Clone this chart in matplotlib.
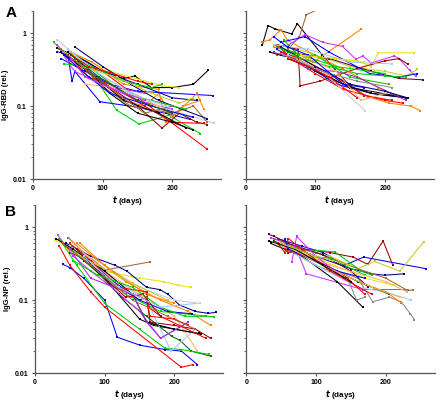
import matplotlib
matplotlib.use("Agg")
import matplotlib.pyplot as plt
import matplotlib.ticker as mticker

# ---------------- DATA ----------------
C = {'k': '#000000', 'b': '#0000ff', 'r': '#ff0000', 'g': '#00cc00', 'o': '#ff8000',
     'y': '#e6e600', 'm': '#cc33ff', 'br': '#a0693c', 'dr': '#990000', 'lb': '#99ccff',
     'gr': '#888888', 'lg': '#cccccc', 'dg': '#006600', 'tn': '#ffb366', 'nv': '#000080',
     'ol': '#c8c832', 'pu': '#9933cc', 'mr': '#660033'}

# Panel A left: IgG-RBD, group 1
rbd1_colors = ['k', 'b', 'r', 'g', 'b', 'y', 'o', 'o', 'dr', 'nv', 'm', 'lg', 'g', 'br',
               'r', 'k', 'nv', 'g', 'tn', 'pu', 'lb', 'ol', 'r', 'k', 'b', 'dg', 'br', 'm']
rbd1_days = [
    [35, 70, 100, 130, 146, 170, 200, 230, 251],
    [40, 75, 110, 150, 258],
    [45, 75, 100, 249],
    [30, 55, 80, 95, 120, 152, 195, 240],
    [35, 50, 56, 60, 96, 140, 190, 225],
    [45, 80, 110, 155, 185, 210],
    [50, 80, 130, 160, 180, 200, 235, 245],
    [55, 85, 130, 180, 190, 215, 240],
    [50, 90, 150, 185, 210, 235, 250],
    [60, 100, 150, 200, 235],
    [35, 50, 60, 100, 150, 200],
    [35, 60, 100, 180, 260],
    [60, 100, 130, 170, 185],
    [65, 95, 140, 200, 230, 250],
    [55, 80, 110, 160, 200, 245],
    [50, 75, 110, 150, 200, 230],
    [60, 100, 140, 180, 250],
    [45, 80, 130, 170, 220],
    [75, 120, 180],
    [80, 120, 160],
    [50, 90, 140, 190],
    [70, 120, 170, 210, 230],
    [55, 80, 110, 150, 170],
    [40, 60, 90, 130, 180, 220],
    [45, 70, 110, 170, 230],
    [55, 95, 150, 200],
    [40, 70, 120, 160, 200],
    [55, 75, 110, 160],
]
rbd1_vals = [
    [0.62, 0.45, 0.30, 0.24, 0.26, 0.18, 0.18, 0.20, 0.31],
    [0.45, 0.30, 0.20, 0.16, 0.14],
    [0.50, 0.35, 0.30, 0.026],
    [0.75, 0.45, 0.30, 0.20, 0.088, 0.057, 0.075, 0.042],
    [0.56, 0.50, 0.22, 0.30, 0.115, 0.10, 0.08, 0.066],
    [0.55, 0.42, 0.30, 0.23, 0.19, 0.18],
    [0.60, 0.30, 0.12, 0.10, 0.15, 0.07, 0.15, 0.09],
    [0.55, 0.40, 0.20, 0.17, 0.06, 0.10, 0.12],
    [0.50, 0.25, 0.10, 0.05, 0.08, 0.06, 0.056],
    [0.50, 0.30, 0.20, 0.13, 0.12],
    [0.70, 0.40, 0.30, 0.20, 0.12, 0.09],
    [0.82, 0.50, 0.25, 0.10, 0.058],
    [0.45, 0.30, 0.22, 0.18, 0.20],
    [0.40, 0.20, 0.10, 0.08, 0.10, 0.06],
    [0.45, 0.25, 0.20, 0.10, 0.06, 0.058],
    [0.55, 0.35, 0.15, 0.08, 0.06, 0.047],
    [0.65, 0.35, 0.20, 0.12, 0.067],
    [0.38, 0.35, 0.15, 0.12, 0.09],
    [0.20, 0.18, 0.10],
    [0.30, 0.18, 0.15],
    [0.60, 0.30, 0.15, 0.10],
    [0.35, 0.25, 0.15, 0.11, 0.13],
    [0.50, 0.35, 0.29, 0.22, 0.20],
    [0.55, 0.40, 0.25, 0.12, 0.08, 0.05],
    [0.50, 0.30, 0.15, 0.10, 0.07],
    [0.50, 0.25, 0.12, 0.08],
    [0.60, 0.35, 0.15, 0.08, 0.10],
    [0.45, 0.25, 0.18, 0.12],
]

# Panel A right: IgG-RBD, group 2
rbd2_colors = ['k', 'br', 'o', 'o', 'o', 'y', 'm', 'ol', 'mr', 'dr', 'b', 'b', 'g', 'g',
               'r', 'r', 'k', 'k', 'lg', 'lb', 'pu', 'nv', 'g', 'gr', 'tn', 'b', 'r', 'y']
rbd2_days = [
    [24, 32, 42, 66, 74, 110, 149, 170],
    [45, 60, 77, 87, 102],
    [40, 70, 97, 166],
    [24, 35, 51, 60, 100, 140, 190, 215],
    [55, 110, 150, 175, 206, 237, 250],
    [70, 130, 160, 180, 190, 242],
    [62, 85, 111, 139, 158, 168, 180, 213, 220, 235, 244],
    [55, 100, 150, 200, 230, 246],
    [60, 120, 180, 220, 254],
    [45, 75, 78, 106, 160, 200, 220, 232],
    [50, 85, 120, 178, 220, 246],
    [45, 60, 90, 130, 180, 230],
    [40, 80, 130, 200],
    [55, 75, 100, 150, 205],
    [50, 80, 130, 170, 210],
    [45, 65, 100, 140, 200, 225],
    [35, 50, 70, 100, 150, 232],
    [60, 90, 140, 180, 230],
    [60, 110, 171],
    [40, 90, 150, 210],
    [40, 70, 90, 130, 160, 230],
    [50, 100, 150, 200, 232],
    [45, 80, 120, 160, 200, 230],
    [55, 110, 160, 210],
    [80, 130, 165, 200],
    [40, 60, 90, 140, 170],
    [60, 90, 120, 160],
    [80, 130, 170],
]
rbd2_vals = [
    [0.70, 1.28, 1.15, 0.98, 1.36, 0.50, 0.19, 0.14],
    [0.50, 0.60, 0.90, 1.80, 2.10],
    [0.65, 0.55, 0.40, 1.15],
    [0.76, 0.82, 1.12, 0.80, 0.50, 0.32, 0.18, 0.14],
    [0.55, 0.30, 0.19, 0.135, 0.11, 0.10, 0.087],
    [0.50, 0.45, 0.42, 0.35, 0.54, 0.54],
    [0.70, 0.96, 0.75, 0.66, 0.44, 0.49, 0.39, 0.49, 0.45, 0.31, 0.26],
    [0.70, 0.50, 0.35, 0.30, 0.26, 0.32],
    [0.55, 0.45, 0.30, 0.24, 0.23],
    [0.70, 0.60, 0.19, 0.22, 0.33, 0.42, 0.45, 0.38],
    [0.75, 0.90, 0.55, 0.28, 0.25, 0.28],
    [0.60, 0.50, 0.35, 0.20, 0.15, 0.13],
    [0.70, 0.50, 0.35, 0.28],
    [0.80, 0.50, 0.50, 0.25, 0.20],
    [0.55, 0.45, 0.25, 0.14, 0.12],
    [0.70, 0.45, 0.28, 0.17, 0.12, 0.11],
    [0.55, 0.50, 0.45, 0.30, 0.18, 0.13],
    [0.45, 0.35, 0.20, 0.15, 0.13],
    [0.50, 0.30, 0.087],
    [0.70, 0.60, 0.40, 0.38],
    [0.55, 0.45, 0.32, 0.30, 0.25, 0.12],
    [0.65, 0.35, 0.20, 0.16, 0.13],
    [0.65, 0.45, 0.35, 0.28, 0.26, 0.25],
    [0.50, 0.30, 0.22, 0.18],
    [0.50, 0.30, 0.12, 0.15],
    [0.90, 0.65, 0.50, 0.20, 0.18],
    [0.45, 0.35, 0.25, 0.13],
    [0.50, 0.45, 0.40],
]

# Panel B left: IgG-NP, group 1
np1_colors = ['br', 'y', 'b', 'r', 'nv', 'dg', 'g', 'o', 'dr', 'k', 'm', 'lb', 'tn', 'lg',
              'g', 'r', 'k', 'b', 'o', 'pu', 'r', 'ol', 'dr', 'g', 'br', 'lb']
np1_days = [
    [48, 70, 101, 165],
    [28, 60, 100, 150, 185, 205, 224],
    [40, 50, 70, 100, 118, 151, 186, 210, 233],
    [35, 50, 80, 100, 210, 226],
    [45, 80, 115, 132, 160, 179, 191, 207, 230, 248, 260],
    [45, 80, 120, 160, 196, 208, 224, 252],
    [35, 60, 100, 150, 186, 210, 250],
    [60, 90, 130, 180, 220, 252],
    [50, 80, 120, 150, 160, 165, 200, 230, 252],
    [40, 70, 100, 150, 170, 200, 238],
    [33, 55, 80, 110, 150, 180, 220],
    [60, 110, 160, 195, 230],
    [55, 100, 150, 200, 233],
    [50, 100, 150, 200, 236],
    [50, 90, 130, 180, 257],
    [50, 80, 120, 160, 165, 200, 220],
    [30, 55, 100, 140, 160, 200, 235],
    [55, 100, 150, 190, 225],
    [65, 100, 160, 200],
    [50, 80, 140, 160, 180, 220],
    [80, 120, 160, 163, 180, 245],
    [45, 90, 140, 190],
    [60, 100, 130, 155, 180],
    [55, 90, 140, 180, 215, 245],
    [40, 80, 140, 190, 230],
    [70, 120, 180, 230],
]
np1_vals = [
    [0.72, 0.45, 0.26, 0.335],
    [0.68, 0.45, 0.25, 0.20, 0.18, 0.16, 0.15],
    [0.31, 0.28, 0.20, 0.10, 0.031, 0.024, 0.021, 0.020, 0.013],
    [0.55, 0.30, 0.13, 0.08, 0.012, 0.013],
    [0.60, 0.40, 0.30, 0.25, 0.15, 0.14, 0.12, 0.086, 0.07, 0.066, 0.068],
    [0.55, 0.30, 0.12, 0.06, 0.032, 0.028, 0.020, 0.017],
    [0.70, 0.30, 0.09, 0.04, 0.022, 0.021, 0.018],
    [0.60, 0.35, 0.18, 0.10, 0.07, 0.045],
    [0.45, 0.35, 0.15, 0.10, 0.11, 0.05, 0.045, 0.04, 0.03],
    [0.60, 0.35, 0.20, 0.055, 0.045, 0.04, 0.034],
    [0.78, 0.40, 0.25, 0.15, 0.07, 0.03, 0.05],
    [0.50, 0.20, 0.10, 0.02, 0.04],
    [0.60, 0.25, 0.12, 0.06, 0.02],
    [0.55, 0.30, 0.15, 0.10, 0.09],
    [0.50, 0.25, 0.12, 0.07, 0.059],
    [0.60, 0.35, 0.15, 0.10, 0.06, 0.055, 0.045],
    [0.70, 0.50, 0.25, 0.12, 0.05, 0.04, 0.035],
    [0.45, 0.22, 0.10, 0.07, 0.065],
    [0.60, 0.30, 0.12, 0.09],
    [0.50, 0.20, 0.12, 0.05, 0.03, 0.05],
    [0.35, 0.15, 0.13, 0.08, 0.06, 0.03],
    [0.50, 0.30, 0.17, 0.10],
    [0.50, 0.20, 0.11, 0.12, 0.06],
    [0.35, 0.22, 0.15, 0.08, 0.06, 0.06],
    [0.60, 0.30, 0.10, 0.06, 0.04],
    [0.40, 0.15, 0.08, 0.09],
]

# Panel B right: IgG-NP, group 2
np2_colors = ['dr', 'b', 'ol', 'nv', 'g', 'm', 'br', 'k', 'gr', 'gr', 'lb', 'o', 'dg',
              'y', 'r', 'mr', 'g', 'tn', 'm', 'r', 'b', 'tn', 'k', 'ol']
np2_days = [
    [45, 60, 90, 120, 153, 174, 196, 210],
    [45, 80, 110, 140, 168, 258],
    [60, 120, 160, 184, 220, 254],
    [50, 100, 150, 180, 198, 226],
    [40, 80, 127, 165, 180],
    [35, 70, 86, 167, 227],
    [45, 100, 160, 200, 231, 239],
    [35, 80, 130, 167],
    [60, 110, 160, 181, 205, 222, 235, 241],
    [50, 100, 145, 158, 170],
    [50, 100, 160, 200, 236],
    [55, 100, 160, 200, 222],
    [40, 100, 160, 205],
    [60, 110, 170, 212],
    [55, 100, 140, 170],
    [32, 40, 60, 110, 150, 175],
    [60, 85, 120, 170],
    [70, 120, 200, 230],
    [65, 72, 100, 140],
    [45, 55, 60, 80, 120, 180],
    [55, 60, 85, 130, 170],
    [50, 110, 180, 220],
    [32, 70, 110, 150],
    [50, 100, 150],
]
np2_vals = [
    [0.60, 0.45, 0.50, 0.45, 0.39, 0.31, 0.65, 0.30],
    [0.70, 0.55, 0.45, 0.30, 0.39, 0.27],
    [0.55, 0.40, 0.27, 0.34, 0.25, 0.63],
    [0.60, 0.40, 0.27, 0.23, 0.22, 0.23],
    [0.70, 0.50, 0.46, 0.25, 0.22],
    [0.72, 0.55, 0.23, 0.14, 0.14],
    [0.60, 0.45, 0.27, 0.20, 0.136, 0.138],
    [0.60, 0.40, 0.18, 0.08],
    [0.50, 0.30, 0.20, 0.095, 0.11, 0.095, 0.065, 0.054],
    [0.55, 0.30, 0.20, 0.10, 0.11],
    [0.55, 0.30, 0.15, 0.13, 0.10],
    [0.60, 0.35, 0.18, 0.13, 0.092],
    [0.65, 0.35, 0.18, 0.12],
    [0.50, 0.35, 0.20, 0.16],
    [0.50, 0.35, 0.22, 0.12],
    [0.80, 0.75, 0.60, 0.42, 0.25, 0.15],
    [0.55, 0.40, 0.38, 0.22],
    [0.50, 0.30, 0.18, 0.13],
    [0.33, 0.75, 0.40, 0.20],
    [0.60, 0.45, 0.70, 0.50, 0.25, 0.12],
    [0.70, 0.50, 0.40, 0.25, 0.20],
    [0.60, 0.30, 0.15, 0.11],
    [0.65, 0.50, 0.30, 0.18],
    [0.60, 0.40, 0.30],
]

x_ticks = [0, 100, 200]
y_ticks = [0.01, 0.1, 1]
y_tick_labels = ['0.01', '0.1', '1']
y_labels = ['IgG-RBD (rel.)', 'IgG-NP (rel.)']
x_label = r'$\mathbfit{t}$ (days)'

# ---------------- PLOT ----------------
plt.rcParams['font.family'] = ['Liberation Sans', 'DejaVu Sans']
fig = plt.figure(figsize=(4.4, 4.01), dpi=100)

W = 0.428
H = 0.418
positions = [
    [0.075, 0.5536, W, H],
    [0.5584, 0.5536, W, H],
    [0.0795, 0.0698, W, H],
    [0.56, 0.0698, W, H],
]
panels = [
    (rbd1_days, rbd1_vals, rbd1_colors),
    (rbd2_days, rbd2_vals, rbd2_colors),
    (np1_days, np1_vals, np1_colors),
    (np2_days, np2_vals, np2_colors),
]

for i, (pos, (days, vals, cols)) in enumerate(zip(positions, panels)):
    ax = fig.add_axes(pos)
    ax.patch.set_alpha(0)
    for d, v, c in zip(days, vals, cols):
        ax.plot(d, v, color=C[c], lw=0.75, marker='s', ms=1.7, mew=0,
                solid_joinstyle='miter')
    ax.set_yscale('log')
    ax.set_ylim(0.01, 2)
    ax.set_xlim(0, 270)
    ax.set_xticks(x_ticks)
    ax.set_yticks(y_ticks)
    for s in ['top', 'right']:
        ax.spines[s].set_visible(False)
    for s in ['left', 'bottom']:
        ax.spines[s].set_color('#555555')
        ax.spines[s].set_linewidth(0.9)
    ax.tick_params(axis='both', which='major', length=2.5, width=0.8, color='#555555',
                   labelsize=5, pad=2)
    ax.tick_params(axis='y', which='minor', length=1.5, width=0.6, color='#555555')
    ax.yaxis.set_minor_locator(mticker.LogLocator(base=10, subs=range(2, 10)))
    ax.yaxis.set_minor_formatter(mticker.NullFormatter())
    ax.set_xticklabels([str(t) for t in x_ticks], fontweight='bold')
    if i % 2 == 0:
        ax.set_yticklabels(y_tick_labels, fontweight='bold')
        ax.set_ylabel(y_labels[i // 2], fontsize=5.5, fontweight='bold', labelpad=3)
    else:
        ax.set_yticklabels([])
    ax.set_xlabel(x_label, fontsize=5.8, fontweight='bold', labelpad=1.5)

fig.text(0.012, 0.985, 'A', fontsize=11, fontweight='bold', va='top', ha='left')
fig.text(0.012, 0.49, 'B', fontsize=11, fontweight='bold', va='top', ha='left')

fig.savefig('out.png', dpi=100)
